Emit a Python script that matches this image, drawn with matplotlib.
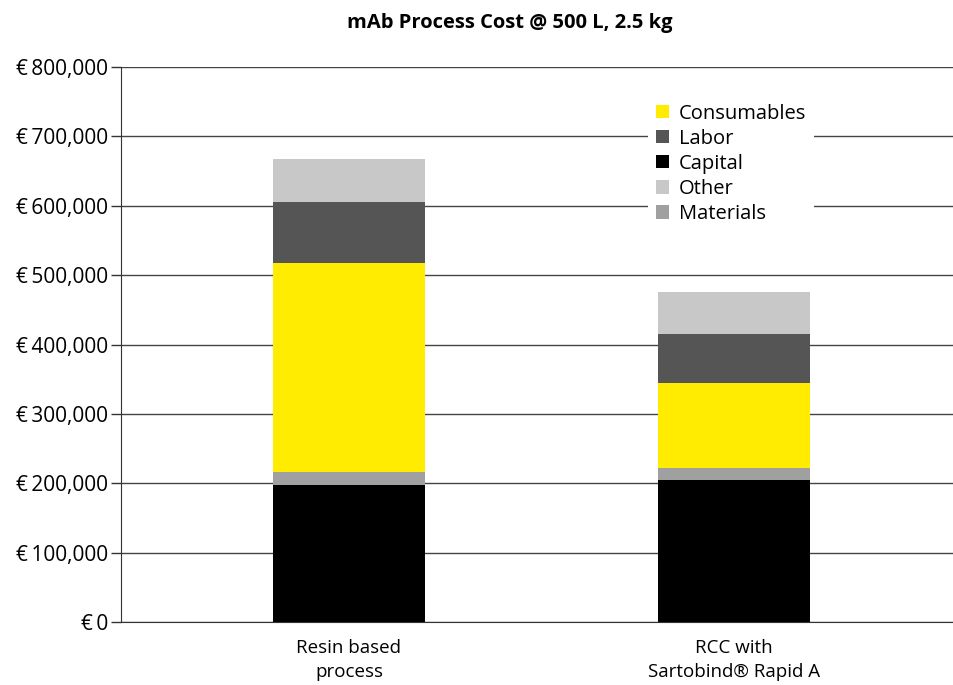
"""mAb process cost stacked bars."""

import matplotlib

matplotlib.use("Agg")

import matplotlib.pyplot as plt
from matplotlib.patches import Patch
from matplotlib.ticker import FuncFormatter

categories = ["Resin based\nprocess", "RCC with\nSartobind® Rapid A"]
capital = [198000, 204500]
materials = [18000, 18000]
consumables = [302000, 122000]
labor = [88000, 71000]
other = [62000, 60000]

colors = {
    "Capital": "#000000",
    "Materials": "#a0a0a0",
    "Consumables": "#ffec00",
    "Labor": "#555555",
    "Other": "#c8c8c8",
}
legend_order = ["Consumables", "Labor", "Capital", "Other", "Materials"]

plt.rcParams["font.family"] = ["Open Sans", "DejaVu Sans"]

fig = plt.figure(figsize=(9.54, 6.85), dpi=100)
ax = fig.add_axes([0.1268, 0.092, 0.8732, 0.81])

x = range(len(categories))
bottom = [0, 0]
for name, vals in [("Capital", capital), ("Materials", materials),
                   ("Consumables", consumables), ("Labor", labor),
                   ("Other", other)]:
    ax.bar(x, vals, width=0.395, bottom=bottom, color=colors[name], zorder=3)
    bottom = [b + v for b, v in zip(bottom, vals)]

ax.set_xlim(-0.592, 1.571)
ax.set_ylim(0, 800000)
ax.set_yticks(range(0, 800001, 100000))
ax.yaxis.set_major_formatter(
    FuncFormatter(lambda v, _: "€\u2009{:,.0f}".format(v)))
ax.set_xticks(list(x))
ax.set_xticklabels(categories, fontsize=13.5, linespacing=1.45)
ax.tick_params(axis="x", length=0, pad=12)
ax.tick_params(axis="y", length=7, width=1, color="#333333",
               labelsize=15, pad=2)

ax.grid(axis="y", color="#444444", linewidth=1)
ax.set_axisbelow(True)
for side in ["top", "right"]:
    ax.spines[side].set_visible(False)
ax.spines["left"].set_color("#333333")
ax.spines["bottom"].set_color("#333333")

fig.text(0.534, 0.966, "mAb Process Cost @ 500 L, 2.5 kg",
         ha="center", va="center", fontsize=14.5, fontweight="bold")

handles = [Patch(facecolor=colors[n], edgecolor="none", label=n)
           for n in legend_order]
leg = ax.legend(handles=handles, loc="upper left",
                bbox_to_anchor=(0.669, 0.875), bbox_transform=fig.transFigure,
                frameon=True, fontsize=14.5, handlelength=0.65,
                handleheight=0.65, handletextpad=0.45, labelspacing=0.25,
                borderpad=0.4, fancybox=False)
leg.get_frame().set_facecolor("white")
leg.get_frame().set_edgecolor("none")
leg.get_frame().set_alpha(1)
leg.set_zorder(5)

fig.savefig("out.png", dpi=100)
plt.close(fig)
